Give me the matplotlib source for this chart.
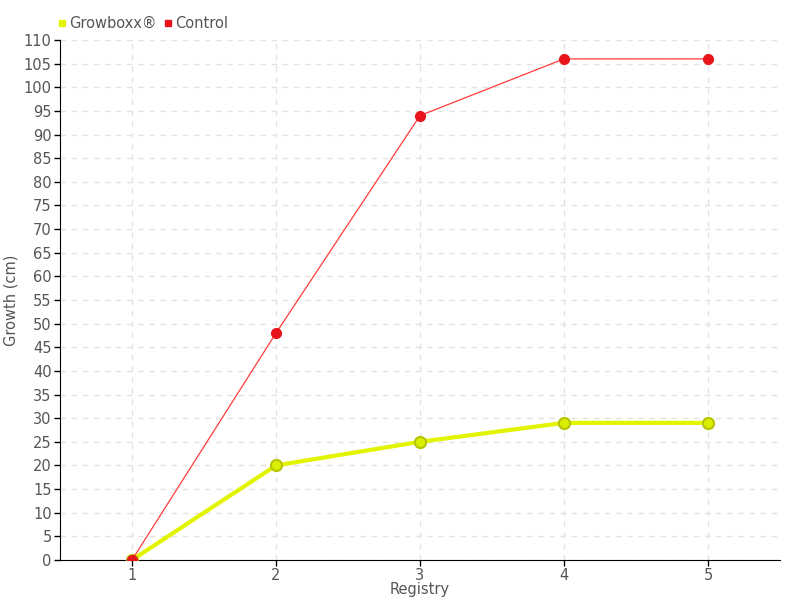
import matplotlib
matplotlib.use("Agg")
from matplotlib import pyplot as plt
from matplotlib.lines import Line2D

registry = [1, 2, 3, 4, 5]
growboxx = [0, 20, 25, 29, 29]
control = [0, 48, 94, 106, 106]

plt.rcParams['font.family'] = ['DejaVu Sans']
grey = '#555555'

fig = plt.figure(figsize=(8, 6), dpi=100)
ax = fig.add_axes([0.075, 0.0667, 0.9, 0.8667])

ax.plot(registry, growboxx, color='#e2f400', lw=3, zorder=3,
        marker='o', ms=8, mfc='#d9ee00', mec='#b5c400', mew=1.5)
ax.plot(registry, control, color='#ff3b3b', lw=0.9, zorder=4,
        marker='o', ms=7, mfc='#e8141c', mec='#e8141c')

ax.set_xlim(0.5, 5.5)
ax.set_ylim(0, 110)
ax.set_xticks(registry)
ax.set_yticks(range(0, 111, 5))
ax.tick_params(colors=grey, labelsize=10.5, length=4, width=1, pad=2)
ax.tick_params(axis='both', color='black')
ax.grid(True, ls=(0, (4, 4)), color='#e3e3e3', lw=1)
ax.set_axisbelow(True)
for s in ['top', 'right']:
    ax.spines[s].set_visible(False)
ax.spines['left'].set_color('black')
ax.spines['bottom'].set_color('black')

ax.set_xlabel('Registry', color=grey, fontsize=10.5, labelpad=-1)
ax.set_ylabel('Growth (cm)', color=grey, fontsize=10.5, labelpad=4)

handles = [Line2D([], [], ls='', marker='s', ms=5, color='#e2f400'),
           Line2D([], [], ls='', marker='s', ms=5, color='#e8141c')]
fig.legend(handles, ['Growboxx®', 'Control'], loc='upper left',
           bbox_to_anchor=(0.055, 0.995), ncol=2, frameon=False,
           handlelength=0.6, handletextpad=0.2, columnspacing=0.5,
           labelcolor=grey, fontsize=10.5)

fig.savefig('out.png')
